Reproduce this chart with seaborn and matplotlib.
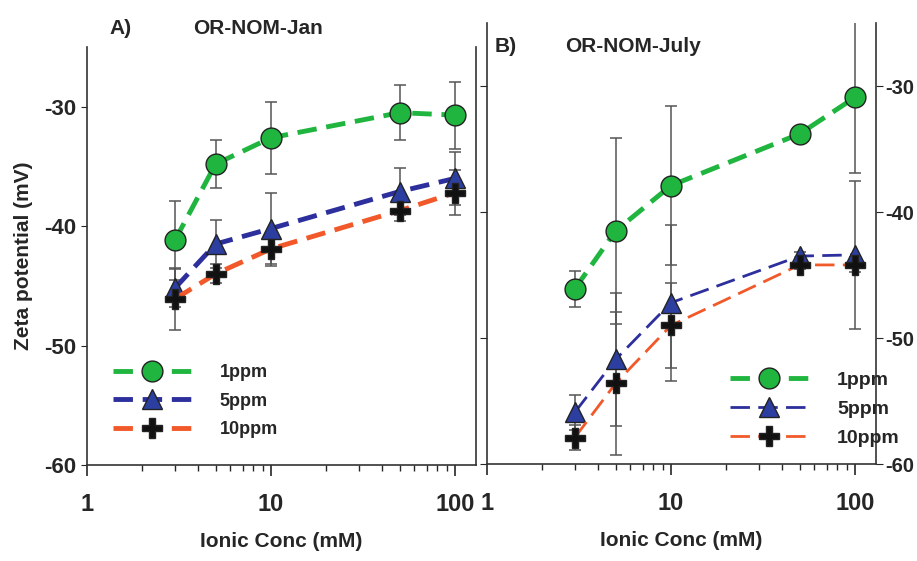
import numpy as np
import pandas as pd
import matplotlib
matplotlib.use('Agg')
import matplotlib.pyplot as plt
import seaborn as sns
from matplotlib.lines import Line2D

# Ionic concentration (mM)
conc = [3, 5, 10, 50, 100]
doses = ['1ppm', '5ppm', '10ppm']

# Panel A: OR-NOM-Jan
jan_mean = {
    '1ppm': [-41.2, -34.8, -32.6, -30.5, -30.7],
    '5ppm': [-45.2, -41.5, -40.2, -37.1, -36.0],
    '10ppm': [-46.1, -44.0, -41.9, -38.7, -37.2],
}
jan_err = {
    '1ppm': [3.3, 2.0, 3.0, 2.3, 2.8],
    '5ppm': [1.6, 2.0, 3.0, 2.0, 2.2],
    '10ppm': [2.6, 0.8, 1.4, 0.9, 1.9],
}

# Panel B: OR-NOM-July
jul_mean = {
    '1ppm': [-46.1, -41.5, -37.9, -33.8, -30.9],
    '5ppm': [-55.9, -51.7, -47.2, -43.5, -43.4],
    '10ppm': [-57.9, -53.6, -49.0, -44.2, -44.2],
}
jul_err = {
    '1ppm': [1.4, 7.4, 6.3, 0.3, 6.0],
    '5ppm': [1.4, 5.3, 6.2, 0.3, 5.9],
    '10ppm': [1.0, 5.7, 3.4, 0.3, 0.6],
}

colors = {'1ppm': '#1fb53f', '5ppm': '#2c2f9c', '10ppm': '#f2592a'}
markers = {'1ppm': 'o', '5ppm': '^', '10ppm': 'P'}
mfc = {'1ppm': '#1fb53f', '5ppm': '#2c3fa0', '10ppm': '#111111'}

sns.set_style('ticks')
plt.rcParams['font.family'] = ['Liberation Sans Narrow', 'Liberation Sans', 'DejaVu Sans']
plt.rcParams['font.weight'] = 'bold'

fig = plt.figure(figsize=(9.17, 5.61), dpi=100)
axA = fig.add_axes([87/917, 1-465/561, (476-87)/917, (465-47)/561])
axB = fig.add_axes([487/917, 1-464/561, (876-487)/917, (464-23)/561])


def draw_panel(ax, mean, err, widths, dash):
    for d in doses:
        df = pd.DataFrame({'conc': conc, 'zeta': mean[d], 'err': err[d]})
        ax.errorbar(df['conc'], df['zeta'], yerr=df['err'], fmt='none',
                    ecolor='#555555', elinewidth=1.1, capsize=4, capthick=1.1, zorder=2)
        sns.lineplot(data=df, x='conc', y='zeta', ax=ax, color=colors[d],
                     lw=widths[d], linestyle=dash[d], marker=markers[d],
                     markersize=15 if d != '5ppm' else 14,
                     markerfacecolor=mfc[d], markeredgecolor='#222222',
                     markeredgewidth=1, zorder=3, legend=False)
    ax.set_xscale('log')
    ax.set_xlim(1, 130)
    ax.set_ylim(-60, -25)
    ax.set_yticks([-60, -50, -40, -30])
    ax.set_xticks([1, 10, 100])
    ax.set_xticklabels(['1', '10', '100'])
    ax.tick_params(axis='x', which='major', length=8, width=1.2, labelsize=17, pad=12)
    ax.tick_params(axis='x', which='minor', length=4, width=1)
    ax.set_xlabel('Ionic Conc (mM)', fontsize=15, fontweight='bold', labelpad=12)
    ax.spines['top'].set_visible(False)
    for s in ax.spines.values():
        s.set_linewidth(1.2)
        s.set_color('#333333')
    return ax


wA = {'1ppm': 3.5, '5ppm': 3.5, '10ppm': 3.5}
dA = {'1ppm': (0, (4, 2)), '5ppm': (0, (4, 2)), '10ppm': (0, (4, 2))}
draw_panel(axA, jan_mean, jan_err, wA, dA)
axA.set_ylabel('Zeta potential (mV)', fontsize=15, fontweight='bold', labelpad=8)
axA.tick_params(axis='y', labelsize=16, length=4)
axA.spines['right'].set_visible(True)
axA.set_yticklabels(['-60', '-50', '-40', '-30'])

wB = {'1ppm': 3.5, '5ppm': 2.0, '10ppm': 2.0}
dB = {'1ppm': (0, (4, 2)), '5ppm': (0, (7, 3)), '10ppm': (0, (7, 3))}
draw_panel(axB, jul_mean, jul_err, wB, dB)
axB.set_ylabel('')
axB.spines['right'].set_visible(True)
axB.yaxis.tick_right()
axB.tick_params(axis='y', which='both', right=True, left=True, labelright=True,
                labelleft=False, labelsize=14.5, length=5, pad=2, direction='out')
axB.set_yticklabels(['-60', '-50', '-40', '-30'])

# panel titles
fig.text(109/917, 1-28/561, 'A)', fontsize=15, fontweight='bold', va='center')
fig.text(193/917, 1-28/561, 'OR-NOM-Jan', fontsize=15, fontweight='bold', va='center')
fig.text(495/917, 1-46/561, 'B)', fontsize=15, fontweight='bold', va='center')
fig.text(565/917, 1-46/561, 'OR-NOM-July', fontsize=15, fontweight='bold', va='center')


def handles(widths, dash):
    hs = []
    for d in doses:
        hs.append(Line2D([], [], color=colors[d], lw=widths[d], linestyle=dash[d],
                         marker=markers[d], markersize=15 if d != '5ppm' else 14,
                         markerfacecolor=mfc[d], markeredgecolor='#222222', markeredgewidth=1))
    return hs


axA.legend(handles(wA, dA), doses, loc='upper left', frameon=False,
           bbox_to_anchor=(113/917, 1-364/561), bbox_transform=fig.transFigure,
           borderaxespad=0, borderpad=0, handlelength=4.3, handletextpad=1.6,
           labelspacing=0.65, prop={'size': 13, 'weight': 'bold'})
axB.legend(handles(wB, dB), doses, loc='upper left', frameon=False,
           bbox_to_anchor=(730/917, 1-371/561), bbox_transform=fig.transFigure,
           borderaxespad=0, borderpad=0, handlelength=4.0, handletextpad=1.5,
           labelspacing=0.6, prop={'size': 14, 'weight': 'bold'})

fig.savefig('out.png', dpi=100)
